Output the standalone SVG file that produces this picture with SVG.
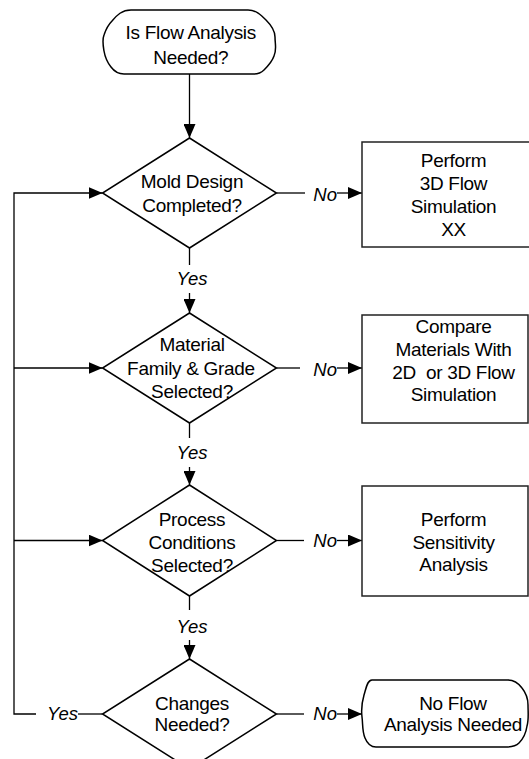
<svg xmlns="http://www.w3.org/2000/svg" width="529" height="759" viewBox="0 0 529 759">
<defs>
<style>
.shape{fill:#fff;stroke:#000;stroke-width:1.5}
.box{fill:#fff;stroke:#222;stroke-width:1.5}
.ln{fill:none;stroke:#000;stroke-width:1.3}
.t{font-family:"Liberation Sans",Arial,sans-serif;font-size:19px;letter-spacing:-0.3px;fill:#000;text-anchor:middle}
.lbl{font-family:"Liberation Sans",Arial,sans-serif;font-size:18.5px;font-style:italic;fill:#000}
</style>
<marker id="arr" markerUnits="userSpaceOnUse" markerWidth="14" markerHeight="12" refX="14" refY="6" orient="auto">
<path d="M0,0 L14,6 L0,12 Z" fill="#000"/>
</marker>
</defs>
<rect width="529" height="759" fill="#fff"/>

<g id="connectors">
<line class="ln" x1="189.5" y1="74" x2="189.5" y2="138" marker-end="url(#arr)"/>
<line class="ln" x1="189.5" y1="248" x2="189.5" y2="265"/>
<line class="ln" x1="189.5" y1="293" x2="189.5" y2="313" marker-end="url(#arr)"/>
<line class="ln" x1="189.5" y1="423" x2="189.5" y2="438"/>
<line class="ln" x1="189.5" y1="467" x2="189.5" y2="485" marker-end="url(#arr)"/>
<line class="ln" x1="189.5" y1="596" x2="189.5" y2="610"/>
<line class="ln" x1="189.5" y1="640" x2="189.5" y2="659" marker-end="url(#arr)"/>

<line class="ln" x1="276.5" y1="193" x2="305" y2="193"/>
<line class="ln" x1="337" y1="193" x2="362" y2="193" marker-end="url(#arr)"/>
<line class="ln" x1="276.5" y1="368" x2="300" y2="368"/>
<line class="ln" x1="337" y1="368" x2="362" y2="368" marker-end="url(#arr)"/>
<line class="ln" x1="276.5" y1="540.5" x2="304" y2="540.5"/>
<line class="ln" x1="337" y1="540.5" x2="362" y2="540.5" marker-end="url(#arr)"/>
<line class="ln" x1="276.5" y1="714" x2="304" y2="714"/>
<line class="ln" x1="337" y1="714" x2="362" y2="714" marker-end="url(#arr)"/>

<polyline class="ln" points="102.5,714 78,714"/>
<polyline class="ln" points="36,714 14,714 14,193 102.5,193" marker-end="url(#arr)"/>
<line class="ln" x1="14" y1="368" x2="102.5" y2="368" marker-end="url(#arr)"/>
<line class="ln" x1="14" y1="540.5" x2="102.5" y2="540.5" marker-end="url(#arr)"/>

<text class="lbl" x="192" y="285" text-anchor="middle">Yes</text>
<text class="lbl" x="192" y="459" text-anchor="middle">Yes</text>
<text class="lbl" x="192" y="633" text-anchor="middle">Yes</text>
<text class="lbl" x="62.5" y="720" text-anchor="middle">Yes</text>
<text class="lbl" x="337" y="200.5" text-anchor="end">No</text>
<text class="lbl" x="337" y="376" text-anchor="end">No</text>
<text class="lbl" x="337" y="546.5" text-anchor="end">No</text>
<text class="lbl" x="337" y="720" text-anchor="end">No</text>
</g>

<g id="start">
<path class="shape" d="M131,10 H248 C256,10 261,15 266,20 C271,25 275,30 275,37 C275,44 277,50 274,56 C272,62 268,66 264,70 C261,73 258,74 254,74 H124 C118,74 114,71 111,67 C107,62 105,57 104,51 C103,45 102,40 104,35 C106,29 108,25 112,21 C117,15 122,10 131,10 Z"/>
<text class="t" x="190.8" y="39">Is Flow Analysis</text>
<text class="t" x="190.8" y="64">Needed?</text>
</g>

<g id="d1">
<polygon class="shape" points="189.5,138 276.5,193 189.5,248 102.5,193"/>
<text class="t" x="192" y="188">Mold Design</text>
<text class="t" x="192" y="212">Completed?</text>
</g>

<g id="b1">
<rect class="box" x="362" y="142" width="172" height="105"/>
<text class="t" x="453.5" y="167">Perform</text>
<text class="t" x="453.5" y="190">3D Flow</text>
<text class="t" x="453.5" y="213">Simulation</text>
<text class="t" x="453.5" y="235.5">XX</text>
</g>

<g id="d2">
<polygon class="shape" points="189.5,313 276.5,368 189.5,423 102.5,368"/>
<text class="t" x="192" y="350.5">Material</text>
<text class="t" x="191" y="375">Family &amp; Grade</text>
<text class="t" x="192" y="398">Selected?</text>
</g>

<g id="b2">
<rect class="box" x="362" y="315" width="166" height="108"/>
<text class="t" x="453.5" y="332.5">Compare</text>
<text class="t" x="453.5" y="355.5">Materials With</text>
<text class="t" x="453.5" y="378.5">2D&#160; or 3D Flow</text>
<text class="t" x="453.5" y="401">Simulation</text>
</g>

<g id="d3">
<polygon class="shape" points="189.5,485 276.5,540.5 189.5,596 102.5,540.5"/>
<text class="t" x="192" y="526">Process</text>
<text class="t" x="192" y="548.5">Conditions</text>
<text class="t" x="192" y="571.5">Selected?</text>
</g>

<g id="b3">
<rect class="box" x="362" y="486" width="166" height="110"/>
<text class="t" x="453.5" y="526">Perform</text>
<text class="t" x="453.5" y="548.5">Sensitivity</text>
<text class="t" x="453.5" y="571">Analysis</text>
</g>

<g id="d4">
<polygon class="shape" points="189.5,659 276.5,714 189.5,769 102.5,714"/>
<text class="t" x="192" y="709.5">Changes</text>
<text class="t" x="192" y="731">Needed?</text>
</g>

<g id="end">
<path class="shape" d="M372,680 H508 C515,680 519,684 522,688 C526,693 528,698 528,705 C528,712 529,719 527,726 C526,733 523,739 519,743 C516,746 512,747 506,747 H376 C370,747 367,743 365,738 C362,731 363,724 362,717 C361,709 362,702 364,695 C366,689 367,680 372,680 Z"/>
<text class="t" x="453" y="709.5">No Flow</text>
<text class="t" x="453" y="731">Analysis Needed</text>
</g>
</svg>
